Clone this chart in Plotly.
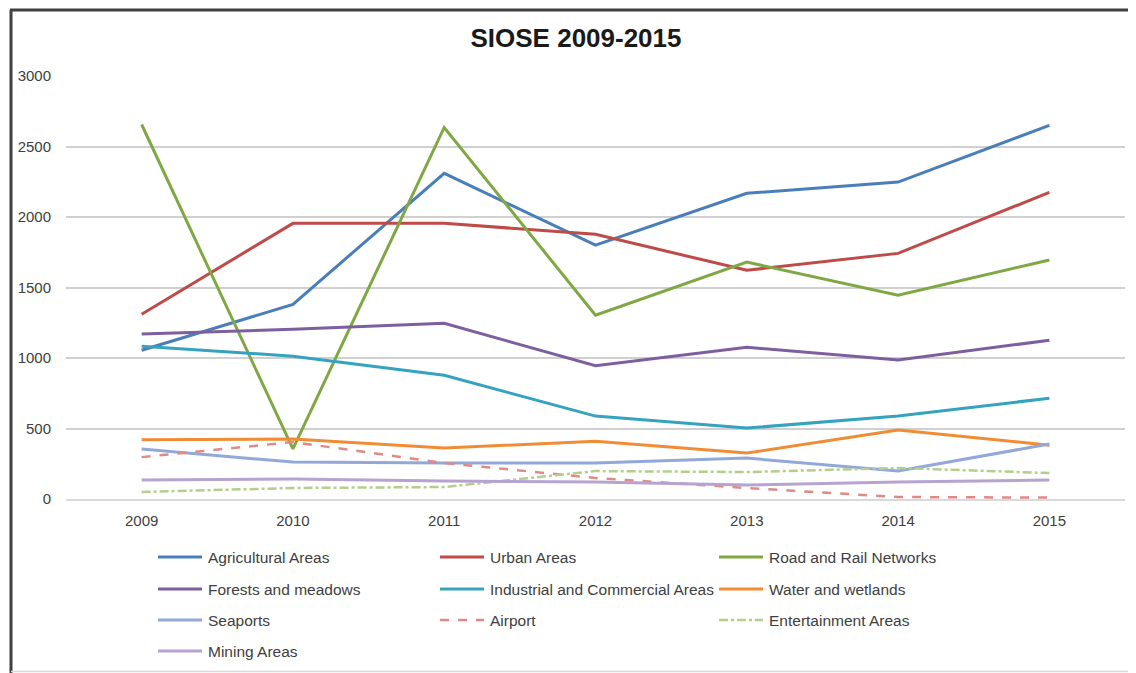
import plotly.graph_objects as go

years = ["2009", "2010", "2011", "2012", "2013", "2014", "2015"]

agricultural = [1055, 1380, 2310, 1800, 2168, 2248, 2650]
urban = [1310, 1955, 1955, 1877, 1622, 1742, 2175]
road_rail = [2656, 355, 2635, 1303, 1680, 1445, 1695]
forests = [1170, 1204, 1246, 945, 1076, 985, 1126]
industrial = [1084, 1013, 878, 588, 503, 588, 715]
water = [420, 425, 361, 410, 326, 489, 382]
seaports = [354, 262, 255, 255, 290, 198, 390]
airport = [297, 404, 255, 149, 78, 14, 10]
entertainment = [50, 78, 85, 198, 191, 220, 184]
mining = [135, 142, 128, 120, 99, 120, 135]

series = [
    ("Agricultural Areas", agricultural, "#4a7ebb", "solid"),
    ("Urban Areas", urban, "#be4b48", "solid"),
    ("Road and Rail Networks", road_rail, "#7fa844", "solid"),
    ("Forests and meadows", forests, "#7d5fa0", "solid"),
    ("Industrial and Commercial Areas", industrial, "#35a3bf", "solid"),
    ("Water and wetlands", water, "#f18c36", "solid"),
    ("Seaports", seaports, "#91a8d8", "solid"),
    ("Airport", airport, "#e08a87", "dash"),
    ("Entertainment Areas", entertainment, "#b3cf8a", "dashdot"),
    ("Mining Areas", mining, "#b6a3cf", "solid"),
]

# page body adds an 8px margin, so the figure is shifted back by that much
OFF = 8
W, H = 1128, 665
L, R, T, B = 66 - OFF, 11, 76 - OFF, 174
PW, PH = W - L - R, H - T - B


def px(x):
    return (x - OFF - L) / PW


def py(y):
    return (H - B - (y - OFF)) / PH


fig = go.Figure()
for name, vals, color, dash in series:
    fig.add_trace(go.Scatter(
        x=years, y=vals, name=name, mode="lines",
        line=dict(color=color, width=3 if dash == "solid" else 2.5, dash=dash),
        showlegend=False,
    ))

# legend drawn by hand: 3 columns, rows ~31px apart
col_x = [158, 440, 719]
row_y = [557, 589, 620, 651]
for i, (name, vals, color, dash) in enumerate(series):
    cx, ry = col_x[i % 3], row_y[i // 3]
    fig.add_shape(type="line", xref="paper", yref="paper",
                  x0=px(cx), x1=px(cx + 44), y0=py(ry), y1=py(ry),
                  line=dict(color=color, width=3 if dash == "solid" else 2.5, dash=dash))
    fig.add_annotation(text=name, xref="paper", yref="paper", x=px(cx + 48), y=py(ry),
                       xanchor="left", yanchor="middle", showarrow=False,
                       font=dict(family="Liberation Sans", size=15.5, color="#404040"))

fig.update_layout(
    title=dict(text="<b>SIOSE 2009-2015</b>", x=(576 - OFF) / W, xanchor="center",
               y=1 - (38 - OFF) / H, yanchor="middle",
               font=dict(family="Liberation Sans", size=26, color="#1a1a1a")),
    paper_bgcolor="white",
    plot_bgcolor="white",
    width=W, height=H,
    margin=dict(l=L, r=R, t=T, b=B, autoexpand=False),
    font=dict(family="Liberation Sans", color="#404040", size=15),
    showlegend=False,
    xaxis=dict(type="category", range=[-0.5, 6.5], showgrid=False, showline=True,
               linecolor="#d9d9d9", linewidth=1.5, ticks="", ticklabelstandoff=7,
               tickfont=dict(size=15, color="#404040")),
    yaxis=dict(range=[0, 3000], dtick=500, showgrid=True, gridcolor="#d0d0d0", gridwidth=1.5,
               zeroline=False, showline=False, ticks="", ticklabelstandoff=14,
               tickfont=dict(size=15, color="#404040")),
)

# chart frame: dark top and left edges, faint bottom edge
fig.add_shape(type="line", xref="paper", yref="paper", x0=px(10), x1=px(W + OFF), y0=py(10), y1=py(10),
              line=dict(color="#404040", width=3))
fig.add_shape(type="line", xref="paper", yref="paper", x0=px(11), x1=px(11), y0=py(10), y1=py(H + OFF),
              line=dict(color="#404040", width=3))
fig.add_shape(type="line", xref="paper", yref="paper", x0=px(11), x1=px(W + OFF), y0=py(671.5), y1=py(671.5),
              line=dict(color="#d9d9d9", width=1.5))

fig.write_html("out.html")
